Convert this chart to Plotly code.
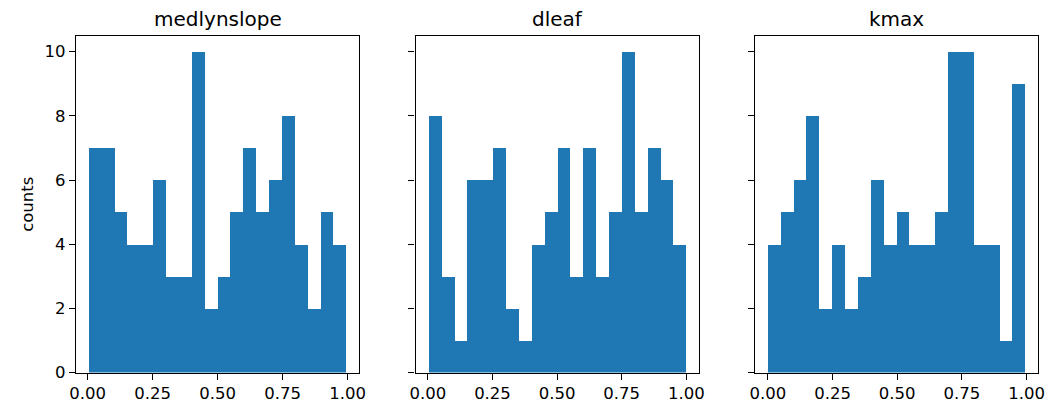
import plotly.graph_objects as go

# Histogram counts per parameter (20 equal-width bins each)
names = ["medlynslope", "dleaf", "kmax"]
medlynslope_counts = [7, 7, 5, 4, 4, 6, 3, 3, 10, 2, 3, 5, 7, 5, 6, 8, 4, 2, 5, 4]
dleaf_counts = [8, 3, 1, 6, 6, 7, 2, 1, 4, 5, 7, 3, 7, 3, 5, 10, 5, 7, 6, 4]
kmax_counts = [4, 5, 6, 8, 2, 4, 2, 3, 6, 4, 5, 4, 4, 5, 10, 10, 4, 4, 1, 9]
# Sample min / max that define the bin edges for each parameter
data_min = [0.005, 0.002, 0.000]
data_max = [0.995, 0.998, 0.995]
x_ticks = [0.0, 0.25, 0.5, 0.75, 1.0]
y_ticks = [0, 2, 4, 6, 8, 10]

counts = [medlynslope_counts, dleaf_counts, kmax_counts]

W, H = 1058, 415
BLUE = "#1f77b4"
FONT = "DejaVu Sans"

panels_px = [(70, 357), (414, 701), (758, 1045)]
top_px, bottom_px = 36.5, 381.7
y_dom = [1 - bottom_px / H, 1 - top_px / H]

fig = go.Figure()
annotations = []
for i, (name, cnt) in enumerate(zip(names, counts)):
    nb = len(cnt)
    lo, hi = data_min[i], data_max[i]
    w = (hi - lo) / nb
    centers = [lo + w * (k + 0.5) for k in range(nb)]
    ax = "" if i == 0 else str(i + 1)
    fig.add_trace(go.Bar(
        x=centers, y=cnt, width=[w] * nb,
        marker=dict(color=BLUE, line=dict(width=0)),
        xaxis="x" + ax, yaxis="y" + ax, showlegend=False,
    ))
    span = hi - lo
    xr = [lo - 0.05 * span, hi + 0.05 * span]
    x0, x1 = panels_px[i]
    common = dict(
        showline=True, linecolor="black", linewidth=1.3, mirror=True,
        ticks="outside", ticklen=6, tickwidth=1.3, tickcolor="black",
        showgrid=False, zeroline=False,
        tickfont=dict(family=FONT, size=16.5, color="black"),
    )
    fig.update_layout(**{
        "xaxis" + ax: dict(
            domain=[x0 / W, x1 / W], range=xr, anchor="y" + ax,
            tickvals=x_ticks, tickformat=".2f", **common),
        "yaxis" + ax: dict(
            domain=y_dom, range=[0, 10.5], anchor="x" + ax,
            tickvals=y_ticks, showticklabels=(i == 0), **common),
    })
    annotations.append(dict(
        text=name, x=(x0 + x1) / 2 / W, y=y_dom[1], xref="paper", yref="paper",
        xanchor="center", yanchor="bottom", yshift=3, showarrow=False,
        font=dict(family=FONT, size=20, color="black"),
    ))

annotations.append(dict(
    text="counts", x=20 / W, y=sum(y_dom) / 2, xref="paper", yref="paper",
    xanchor="center", yanchor="middle", textangle=-90, showarrow=False,
    font=dict(family=FONT, size=16.5, color="black"),
))

fig.update_layout(
    width=W, height=H, margin=dict(l=0, r=0, t=0, b=0),
    paper_bgcolor="white", plot_bgcolor="white",
    bargap=0, annotations=annotations,
)

fig.write_html("out.html")
